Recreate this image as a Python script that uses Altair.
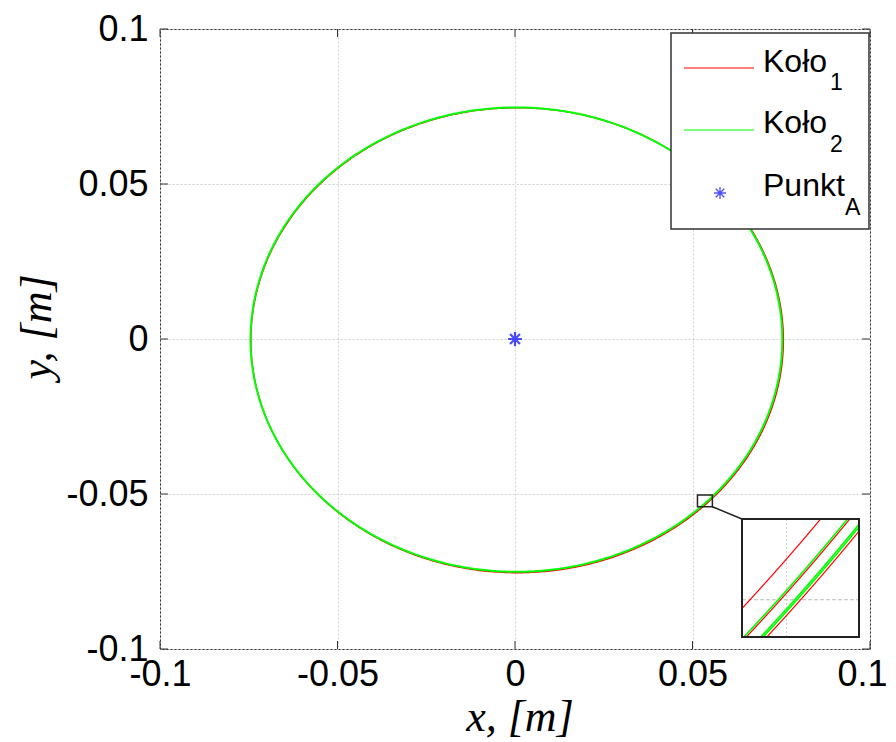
import altair as alt
import numpy as np
import pandas as pd

# ---------------- data ----------------
axis_domain = [-0.1, 0.1]
tick_values = [-0.1, -0.05, 0, 0.05, 0.1]

# the two wheel trajectories (circles): centre x, centre y, radius
series_names = ["Koło1", "Koło2"]
series_colors = ["#ff0000", "#00ff00"]
circle_cx = [0.0006, 0.0004]
circle_cy = [-0.0004, -0.0002]
circle_r = [0.0750, 0.0749]

# point A
point_x = [0.0]
point_y = [0.0]

# magnified region (zoom box) and what the inset shows
zoom_x = [0.0514, 0.0556]
zoom_y = [-0.0541, -0.0503]
inset_red_r = [0.07396, 0.07473, 0.07524]
inset_green_r = [0.07467, 0.07509, 0.07515]
inset_grid_x = [0.0530]
inset_grid_y = [-0.0529]

legend_labels = ["Koło", "Koło", "Punkt"]
legend_subs = ["1", "2", "A"]

# ---------------- tables ----------------
theta = np.linspace(0, 2 * np.pi, 721)


def circle_df(cx, cy, r):
    return pd.DataFrame({"x": cx + r * np.cos(theta),
                         "y": cy + r * np.sin(theta),
                         "o": np.arange(len(theta))})


circles = [circle_df(cx, cy, r) for cx, cy, r in zip(circle_cx, circle_cy, circle_r)]

phi = np.linspace(np.radians(-52), np.radians(-36), 3000)


def arc_df(radii):
    frames = []
    for i, r in enumerate(radii):
        x = r * np.cos(phi)
        y = r * np.sin(phi)
        m = (x >= zoom_x[0]) & (x <= zoom_x[1]) & (y >= zoom_y[0]) & (y <= zoom_y[1])
        frames.append(pd.DataFrame({"x": x[m], "y": y[m], "k": i, "o": np.arange(m.sum())}))
    return pd.concat(frames, ignore_index=True)


inset_red = arc_df(inset_red_r)
inset_green = arc_df(inset_green_r)

W, H = 710, 620
FONT = "Liberation Sans"

label_expr = ("datum.value == 0 ? '0' : (datum.value < 0 ? '-' : '') + "
              "format(abs(datum.value), '.2~f')")

x_axis = alt.Axis(values=tick_values, labelExpr=label_expr, labelFont=FONT,
                  labelFontSize=36, labelColor="black", tickSize=0, domain=False,
                  grid=True, gridColor="#cfcfcf", gridDash=[2, 2], gridWidth=1,
                  title=None, labelPadding=8, labelFlush=False, labelOverlap=False,
                  labelOffset=alt.condition("datum.value >= 0.1", alt.value(-8), alt.value(0)))
y_axis = alt.Axis(values=tick_values, labelExpr=label_expr, labelFont=FONT,
                  labelFontSize=36, labelColor="black", tickSize=0, domain=False,
                  grid=True, gridColor="#cfcfcf", gridDash=[2, 2], gridWidth=1,
                  title=None, labelPadding=12, labelFlush=False, labelOverlap=False)

X = alt.X("x:Q", scale=alt.Scale(domain=axis_domain, nice=False, zero=False), axis=x_axis)
Y = alt.Y("y:Q", scale=alt.Scale(domain=axis_domain, nice=False, zero=False), axis=y_axis)

one = pd.DataFrame({"a": [0]})

main_layers = []
# circles: red first, green on top
widths = [1.4, 2.0]
for df, col, w in zip(circles, series_colors, widths):
    main_layers.append(
        alt.Chart(df).mark_line(color=col, strokeWidth=w).encode(x=X, y=Y, order="o:Q")
    )

star = "M0,-1L0,1M-1,0L1,0M-0.72,-0.72L0.72,0.72M-0.72,0.72L0.72,-0.72"
main_layers.append(
    alt.Chart(pd.DataFrame({"x": point_x, "y": point_y}))
    .mark_point(shape=star, filled=False, color="#0000ff", strokeWidth=2.2, size=190)
    .encode(x=X, y=Y)
)

# inward ticks
tx = pd.DataFrame({"x": tick_values})
ty = pd.DataFrame({"y": tick_values})
tick_style = dict(color="#333333", strokeWidth=1)
main_layers += [
    alt.Chart(tx).mark_rule(**tick_style).encode(x=X, y=alt.value(H), y2=alt.value(H - 8)),
    alt.Chart(tx).mark_rule(**tick_style).encode(x=X, y=alt.value(0), y2=alt.value(8)),
    alt.Chart(ty).mark_rule(**tick_style).encode(y=Y, x=alt.value(0), x2=alt.value(8)),
    alt.Chart(ty).mark_rule(**tick_style).encode(y=Y, x=alt.value(W), x2=alt.value(W - 8)),
]

# zoom box and connector
zb = pd.DataFrame({"x": [zoom_x[0]], "x2": [zoom_x[1]], "y": [zoom_y[0]], "y2": [zoom_y[1]]})
main_layers.append(
    alt.Chart(zb).mark_rect(fillOpacity=0, stroke="#222222", strokeWidth=1.5)
    .encode(x=X, x2="x2:Q", y=Y, y2="y2:Q")
)
zc = pd.DataFrame({"x": [zoom_x[1]], "y": [zoom_y[0]]})
main_layers.append(
    alt.Chart(zc).mark_rule(color="#222222", strokeWidth=1.5)
    .encode(x=X, y=Y, x2=alt.value(582), y2=alt.value(490))
)

# legend
main_layers.append(
    alt.Chart(one).mark_rect(fill="white", stroke="#333333", strokeWidth=1.5)
    .encode(x=alt.value(511), x2=alt.value(709), y=alt.value(4), y2=alt.value(200))
)
main_layers.append(
    alt.Chart(one).mark_rule(color=series_colors[0], strokeWidth=1.2)
    .encode(x=alt.value(524), x2=alt.value(594), y=alt.value(39))
)
main_layers.append(
    alt.Chart(one).mark_rule(color=series_colors[1], strokeWidth=1.2)
    .encode(x=alt.value(524), x2=alt.value(594), y=alt.value(101))
)
main_layers.append(
    alt.Chart(one).mark_point(shape=star, filled=False, color="#0000ff", strokeWidth=1.3, size=140)
    .encode(x=alt.value(560), y=alt.value(164))
)
label_y = [43, 104, 167]
sub_x = [670, 670, 685]
sub_y = [61, 123, 186]
for lab, sub, ly, sx, sy in zip(legend_labels, legend_subs, label_y, sub_x, sub_y):
    main_layers.append(
        alt.Chart(pd.DataFrame({"t": [lab]})).mark_text(
            font=FONT, fontSize=32, align="left", baseline="alphabetic", color="black")
        .encode(text="t:N", x=alt.value(603), y=alt.value(ly))
    )
    main_layers.append(
        alt.Chart(pd.DataFrame({"t": [sub]})).mark_text(
            font=FONT, fontSize=23, align="left", baseline="alphabetic", color="black")
        .encode(text="t:N", x=alt.value(sx), y=alt.value(sy))
    )

# axis titles
main_layers.append(
    alt.Chart(pd.DataFrame({"t": ["x,  [m]"]})).mark_text(
        font="Liberation Serif", fontStyle="italic", fontSize=44, align="center",
        baseline="alphabetic", color="black")
    .encode(text="t:N", x=alt.value(360), y=alt.value(702))
)
main_layers.append(
    alt.Chart(pd.DataFrame({"t": ["y,  [m]"]})).mark_text(
        font="Liberation Serif", fontStyle="italic", fontSize=44, align="center",
        baseline="middle", angle=270, color="black")
    .encode(text="t:N", x=alt.value(-122), y=alt.value(298))
)

main = alt.layer(*main_layers)

# ---------------- inset ----------------
IX = alt.X("x:Q", scale=alt.Scale(domain=zoom_x, range=[582, 699], nice=False, zero=False), axis=None)
IY = alt.Y("y:Q", scale=alt.Scale(domain=zoom_y, range=[608, 490], nice=False, zero=False), axis=None)

inset_layers = [
    alt.Chart(one).mark_rect(fill="white", stroke=None)
    .encode(x=alt.value(582), x2=alt.value(699), y=alt.value(490), y2=alt.value(608)),
    alt.Chart(pd.DataFrame({"x": inset_grid_x})).mark_rule(color="#cfcfcf", strokeDash=[2, 2])
    .encode(x=IX, y=alt.value(490), y2=alt.value(608)),
    alt.Chart(pd.DataFrame({"y": inset_grid_y})).mark_rule(color="#bdbdbd", strokeDash=[4, 2])
    .encode(y=IY, x=alt.value(582), x2=alt.value(699)),
    alt.Chart(inset_red).mark_line(color=series_colors[0], strokeWidth=1.2)
    .encode(x=IX, y=IY, detail="k:N", order="o:Q"),
    alt.Chart(inset_green).mark_line(color=series_colors[1], strokeWidth=1.6)
    .encode(x=IX, y=IY, detail="k:N", order="o:Q"),
    alt.Chart(one).mark_rect(fillOpacity=0, stroke="#222222", strokeWidth=2)
    .encode(x=alt.value(582), x2=alt.value(699), y=alt.value(490), y2=alt.value(608)),
]
inset = alt.layer(*inset_layers)

chart = (
    alt.layer(main, inset)
    .resolve_scale(x="independent", y="independent")
    .properties(width=W, height=H,
                autosize=alt.AutoSizeParams(type="none"),
                padding={"left": 152, "top": 21, "right": 18, "bottom": 92})
    .configure_view(stroke="#333333", strokeWidth=1)
)

chart.save("out.html", embed_options={"renderer": "svg", "actions": False})
